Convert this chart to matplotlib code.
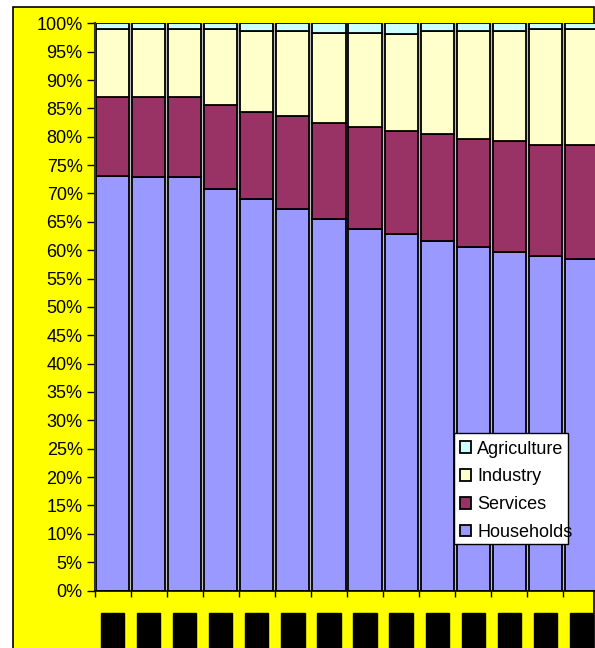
import numpy as np
import matplotlib.pyplot as plt
from matplotlib.patches import Rectangle
from matplotlib.ticker import PercentFormatter

plt.rcParams['font.family'] = ['Liberation Sans', 'DejaVu Sans']

# shares of each sector, percent, one value per year
years = ['1990', '1991', '1992', '1993', '1994', '1995', '1996',
         '1997', '1998', '1999', '2000', '2001', '2002', '2003']
households = [73.0, 72.9, 72.9, 70.8, 69.0, 67.3, 65.5,
              63.8, 62.8, 61.7, 60.6, 59.6, 58.9, 58.5]
services = [14.0, 14.1, 14.1, 14.8, 15.4, 16.3, 16.9,
            18.0, 18.3, 18.7, 19.0, 19.6, 19.7, 20.1]
industry = [12.0, 12.0, 12.0, 13.4, 14.3, 15.1, 15.9,
            16.5, 17.1, 18.3, 19.1, 19.5, 20.4, 20.4]
agriculture = [1.0, 1.0, 1.0, 1.0, 1.3, 1.3, 1.7,
               1.7, 1.8, 1.3, 1.3, 1.3, 1.0, 1.0]

series = [('Households', households, '#9999FF'),
          ('Services', services, '#993366'),
          ('Industry', industry, '#FFFFCC'),
          ('Agriculture', agriculture, '#CCFFFF')]

W, H = 595, 648
fig = plt.figure(figsize=(W / 100, H / 100), dpi=100, facecolor='white')

# yellow chart area with black frame
fig.patches.append(Rectangle((13 / W, -0.05), (594 - 13) / W, 1.05 - 7 / H,
                             transform=fig.transFigure, facecolor='#FFFF00',
                             edgecolor='black', linewidth=1.2, zorder=0))

ax_l, ax_b, ax_w, ax_h = 94.5, H - 590.5, 505, 567.2
ax = fig.add_axes([ax_l / W, ax_b / H, ax_w / W, ax_h / H])
ax.set_zorder(2)
ax.set_facecolor('#C0C0C0')

x = np.arange(len(years))
bottom = np.zeros(len(years))
handles = []
for name, vals, color in series:
    vals = np.array(vals)
    b = ax.bar(x, vals, bottom=bottom, width=0.92, color=color,
               edgecolor='black', linewidth=1.3, label=name, zorder=2)
    handles.append(b)
    bottom += vals

ax.set_xlim(-0.5, len(years) - 0.5)
ax.set_ylim(0, 100)
ax.set_yticks(np.arange(0, 101, 5))
ax.yaxis.set_major_formatter(PercentFormatter(decimals=0))
ax.tick_params(axis='y', direction='out', length=6, width=1, pad=2.5,
               labelsize=13, colors='black')

# tick marks between categories, labels on the bar centres
ax.set_xticks(x - 0.5, minor=True)
ax.tick_params(axis='x', which='minor', direction='out', length=4, width=1)
ax.set_xticks(x)
ax.set_xticklabels(years, rotation=90, fontsize=9, color='black',
                   va='top', ha='center')
ax.tick_params(axis='x', which='major', length=0, pad=20)
for lab in ax.get_xticklabels():
    lab.set_bbox(dict(boxstyle='square,pad=0.45', facecolor='black',
                      edgecolor='black'))

for side in ['top', 'right']:
    ax.spines[side].set_visible(False)
ax.spines['left'].set_color('#333333')
ax.spines['left'].set_linewidth(1.5)
ax.spines['bottom'].set_linewidth(1.2)

# legend box is fixed; the longest label runs past its right edge
def px_to_ax(px, py):
    return (px - ax_l) / ax_w, (H - py - ax_b) / ax_h

bx0, by0 = px_to_ax(454, 544)
bx1, by1 = px_to_ax(568, 432.7)
ax.add_patch(Rectangle((bx0, by0), bx1 - bx0, by1 - by0, transform=ax.transAxes,
                       facecolor='white', edgecolor='black', linewidth=1,
                       zorder=4))

lx, ly = px_to_ax(460, 541)
leg = ax.legend(handles[::-1], [s[0] for s in series][::-1],
                loc='lower left', bbox_to_anchor=(lx, ly),
                fontsize=13, frameon=False, handlelength=0.6,
                handleheight=0.6, handletextpad=0.35, labelspacing=0.6,
                borderpad=0, borderaxespad=0)
leg.set_zorder(5)

fig.savefig('out.png', dpi=100)
